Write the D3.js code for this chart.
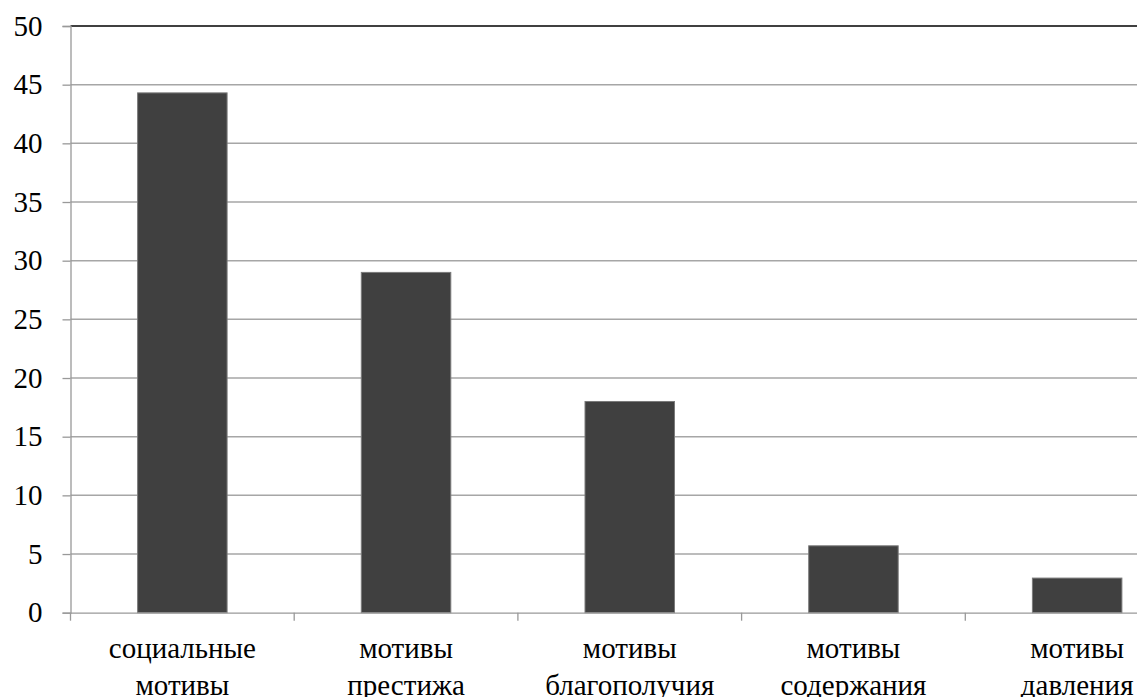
<!DOCTYPE html>
<html>
<head>
<meta charset="utf-8">
<script src="https://cdn.jsdelivr.net/npm/d3@7"></script>
<style>
  body { margin: 0; background: #fff; overflow: hidden; }
  svg { display: block; }
</style>
</head>
<body>
<script>
// Data
var categories = [
  ["социальные", "мотивы"],
  ["мотивы", "престижа"],
  ["мотивы", "благополучия"],
  ["мотивы", "содержания"],
  ["мотивы", "давления"]
];
var values = [44.3, 29.0, 18.0, 5.7, 2.95];
var yTicks = [0, 5, 10, 15, 20, 25, 30, 35, 40, 45, 50];

var width = 1137, height = 697;
var serif = "Liberation Serif";
// plot runs past the right edge of the window, as in the reference
var plotLeft = 70.5, plotRight = 1189, plotTop = 26, plotBottom = 612.7;

var svg = d3.select("body").append("svg")
    .attr("width", width)
    .attr("height", height);

var x = d3.scaleBand()
    .domain(d3.range(categories.length))
    .range([plotLeft, plotRight])
    .paddingInner(0.6)
    .paddingOuter(0.3);

var y = d3.scaleLinear()
    .domain([0, 50])
    .range([plotBottom, plotTop]);

// gridlines
svg.append("g")
    .selectAll("line")
    .data(yTicks.slice(1, -1))
    .enter().append("line")
      .attr("x1", plotLeft)
      .attr("x2", plotRight)
      .attr("y1", function(d) { return y(d); })
      .attr("y2", function(d) { return y(d); })
      .attr("stroke", "#a6a6a6")
      .attr("stroke-width", 1.5);

// top border line
svg.append("line")
    .attr("x1", plotLeft).attr("x2", plotRight)
    .attr("y1", y(50)).attr("y2", y(50))
    .attr("stroke", "#000")
    .attr("stroke-width", 1.5);

// bars
svg.selectAll("rect.bar")
    .data(values)
    .enter().append("rect")
      .attr("class", "bar")
      .attr("x", function(d, i) { return x(i); })
      .attr("width", x.bandwidth())
      .attr("y", function(d) { return y(d); })
      .attr("height", function(d) { return y(0) - y(d); })
      .attr("fill", "#404040")
      .attr("stroke", "#7a7a7a")
      .attr("stroke-width", 1);

// y axis
var yAxis = svg.append("g")
    .attr("transform", "translate(" + plotLeft + ",0)")
    .call(d3.axisLeft(y).tickValues(yTicks).tickSize(8).tickPadding(20).tickFormat(d3.format("d")));
yAxis.attr("font-family", serif).attr("font-size", 29);
yAxis.selectAll(".tick text").attr("fill", "#000").style("font-family", serif);
yAxis.select(".domain").attr("stroke", "#999").attr("stroke-width", 1.3);
yAxis.selectAll(".tick line").attr("stroke", "#999").attr("stroke-width", 1.3);

// x axis
var xAxis = svg.append("g")
    .attr("transform", "translate(0," + plotBottom + ")")
    .call(d3.axisBottom(x).tickSize(0).tickFormat(""));
xAxis.select(".domain").attr("stroke", "#999").attr("stroke-width", 1.3);

// category separator ticks
svg.append("g")
    .selectAll("line")
    .data(d3.range(categories.length + 1))
    .enter().append("line")
      .attr("x1", function(i) { return plotLeft + i * x.step(); })
      .attr("x2", function(i) { return plotLeft + i * x.step(); })
      .attr("y1", plotBottom)
      .attr("y2", plotBottom + 8)
      .attr("stroke", "#999")
      .attr("stroke-width", 1.3);

// category labels (two lines each)
var labels = svg.append("g")
    .attr("text-anchor", "middle")
    .attr("font-family", serif)
    .attr("font-size", 29)
    .selectAll("text")
    .data(categories)
    .enter().append("text")
      .style("font-family", serif)
      .attr("x", function(d, i) { return x(i) + x.bandwidth() / 2; })
      .attr("y", 658);
labels.selectAll("tspan")
    .data(function(d) { return d; })
    .enter().append("tspan")
      .attr("x", function() { return d3.select(this.parentNode).attr("x"); })
      .attr("dy", function(d, j) { return j === 0 ? 0 : 37; })
      .text(function(d) { return d; });
</script>
</body>
</html>
